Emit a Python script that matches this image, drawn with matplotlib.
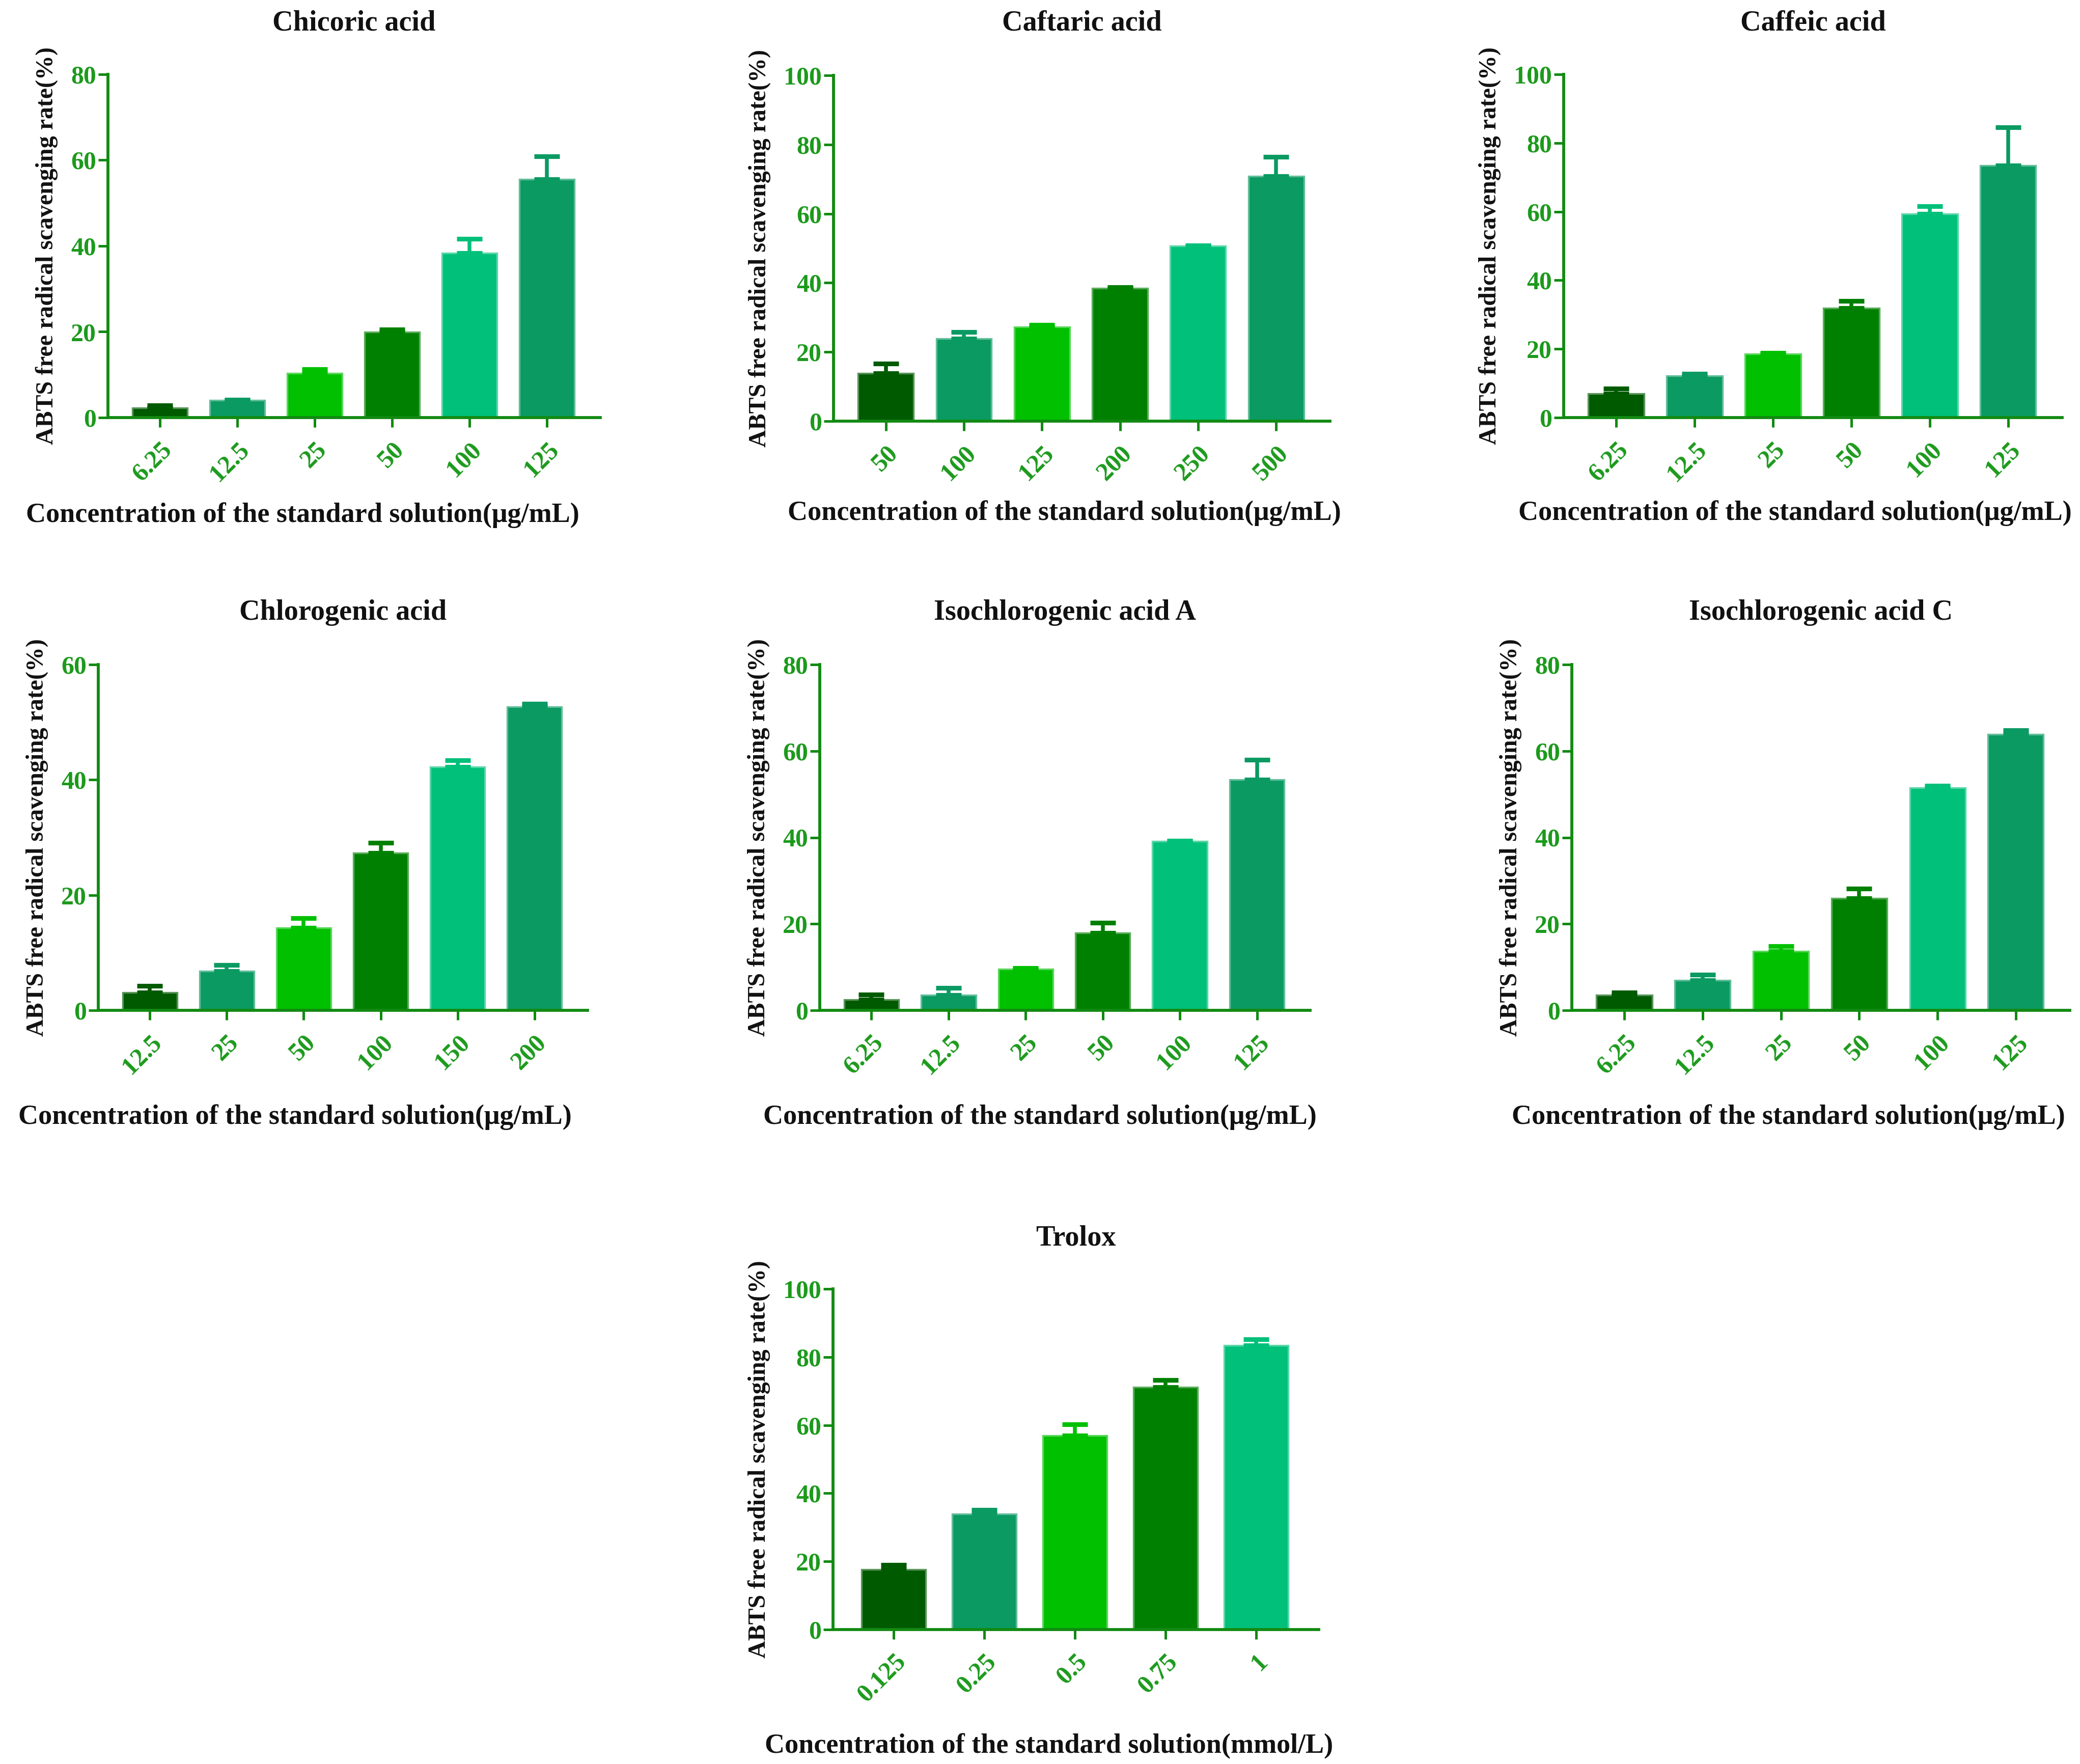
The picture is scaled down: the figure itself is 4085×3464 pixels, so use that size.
import matplotlib
matplotlib.use("Agg")
import matplotlib.pyplot as plt
from matplotlib.colors import to_rgb

plt.rcParams['font.family'] = ['Liberation Serif', 'DejaVu Serif']
plt.rcParams['font.weight'] = 'bold'

# ---------------- data ----------------
titles = ['Chicoric acid', 'Caftaric acid', 'Caffeic acid',
          'Chlorogenic acid', 'Isochlorogenic acid A', 'Isochlorogenic acid C',
          'Trolox']

chicoric_conc = ['6.25', '12.5', '25', '50', '100', '125']
chicoric_mean = [2.3, 4.0, 10.3, 19.9, 38.3, 55.6]
chicoric_err = [0.6, 0.2, 1.0, 0.6, 3.4, 5.3]

caftaric_conc = ['50', '100', '125', '200', '250', '500']
caftaric_mean = [13.8, 23.9, 27.3, 38.4, 50.7, 70.9]
caftaric_err = [2.8, 1.9, 0.5, 0.3, 0.1, 5.5]

caffeic_conc = ['6.25', '12.5', '25', '50', '100', '125']
caffeic_mean = [6.9, 12.1, 18.6, 31.9, 59.4, 73.5]
caffeic_err = [1.5, 0.6, 0.3, 2.1, 2.1, 11.0]

chlorogenic_conc = ['12.5', '25', '50', '100', '150', '200']
chlorogenic_mean = [3.1, 6.8, 14.3, 27.3, 42.2, 52.7]
chlorogenic_err = [1.1, 1.1, 1.7, 1.8, 1.2, 0.5]

isoA_conc = ['6.25', '12.5', '25', '50', '100', '125']
isoA_mean = [2.5, 3.5, 9.6, 17.9, 39.1, 53.4]
isoA_err = [1.2, 1.7, 0.2, 2.4, 0.1, 4.6]

isoC_conc = ['6.25', '12.5', '25', '50', '100', '125']
isoC_mean = [3.5, 7.0, 13.7, 25.9, 51.5, 63.9]
isoC_err = [0.6, 1.2, 1.2, 2.3, 0.5, 0.9]

trolox_conc = ['0.125', '0.25', '0.5', '0.75', '1']
trolox_mean = [17.7, 34.0, 57.0, 71.2, 83.4]
trolox_err = [1.3, 1.1, 3.3, 2.1, 1.8]

ymax_list = [80, 100, 100, 60, 80, 80, 100]

xlabel_ug = 'Concentration of the standard solution(\u03bcg/mL)'
xlabel_mmol = 'Concentration of the standard solution(mmol/L)'
ylabel = 'ABTS free radical scavenging rate(%)'

bar_colors = ['#005A00', '#0A9A62', '#00C000', '#008000', '#00C07A', '#0A9A62']

panels = [
    (chicoric_conc, chicoric_mean, chicoric_err, xlabel_ug),
    (caftaric_conc, caftaric_mean, caftaric_err, xlabel_ug),
    (caffeic_conc, caffeic_mean, caffeic_err, xlabel_ug),
    (chlorogenic_conc, chlorogenic_mean, chlorogenic_err, xlabel_ug),
    (isoA_conc, isoA_mean, isoA_err, xlabel_ug),
    (isoC_conc, isoC_mean, isoC_err, xlabel_ug),
    (trolox_conc, trolox_mean, trolox_err, xlabel_mmol),
]

# ---------------- layout (pixels) ----------------
W, H = 4086, 3464
# (x0, x1, ytop, ybottom) of each axes in pixels
axes_px = [
    (212, 1179, 146, 820),
    (1637, 2612, 148, 827),
    (3071, 4050, 146, 820),
    (193, 1154, 1305, 1984),
    (1610, 2573, 1305, 1984),
    (3087, 4065, 1305, 1984),
    (1636, 2590, 2531, 3200),
]
title_y = [46, 46, 46, 1203, 1203, 1203, 2432]
xlab_pos = [(594, 1012), (2090, 1008), (3525, 1008),
            (579, 2194), (2042, 2194), (3512, 2194), (2060, 3429)]

axis_color = '#128A12'
tick_color = '#1C9A1C'

fig = plt.figure(figsize=(W / 300, H / 300), dpi=300)

def lighten(c, f=0.35):
    r, g, b = to_rgb(c)
    return (r + (1 - r) * f, g + (1 - g) * f, b + (1 - b) * f)

for i, (conc, mean, err, xl) in enumerate(panels):
    x0, x1, yt, yb = axes_px[i]
    ax = fig.add_axes([x0 / W, 1 - yb / H, (x1 - x0) / W, (yb - yt) / H])
    n = len(conc)
    xs = list(range(n))
    cols = [bar_colors[k % len(bar_colors)] for k in range(n)]
    ax.bar(xs, mean, width=0.71, color=cols,
           edgecolor=[lighten(c) for c in cols], linewidth=0.8, zorder=2)
    for k in range(n):
        ax.errorbar(xs[k], mean[k], yerr=[[0], [err[k]]], fmt='none',
                    ecolor=cols[k], elinewidth=1.8, capsize=6, capthick=2.2,
                    zorder=3)
    ax.set_xlim(-0.67, n - 1 + 0.69)
    ax.set_ylim(0, ymax_list[i])
    ax.set_yticks(list(range(0, ymax_list[i] + 1, 20)))
    ax.set_xticks(xs)
    ax.set_xticklabels(conc, rotation=45, ha='right', rotation_mode='anchor',
                       fontsize=12, fontweight='bold', color=tick_color)
    for lab in ax.get_yticklabels():
        lab.set_fontsize(12)
        lab.set_fontweight('bold')
        lab.set_color(tick_color)
    for s in ['top', 'right']:
        ax.spines[s].set_visible(False)
    for s in ['left', 'bottom']:
        ax.spines[s].set_color(axis_color)
        ax.spines[s].set_linewidth(1.4)
    ax.tick_params(axis='both', colors=axis_color, width=1.2, length=4.5)
    ax.tick_params(axis='y', pad=1)
    ax.tick_params(axis='x', pad=5)
    for lab in ax.get_xticklabels() + ax.get_yticklabels():
        lab.set_color(tick_color)
    ax.set_ylabel(ylabel, fontsize=11.5, fontweight='bold', color='#111111',
                  labelpad=6)
    fig.text(((x0 + x1) / 2) / W, 1 - title_y[i] / H, titles[i],
             ha='center', va='center', fontsize=13.5, fontweight='bold',
             color='#111111')
    fig.text(xlab_pos[i][0] / W, 1 - xlab_pos[i][1] / H, xl,
             ha='center', va='center', fontsize=13, fontweight='bold',
             color='#111111')

fig.savefig('out.png', dpi=300, facecolor='white')
